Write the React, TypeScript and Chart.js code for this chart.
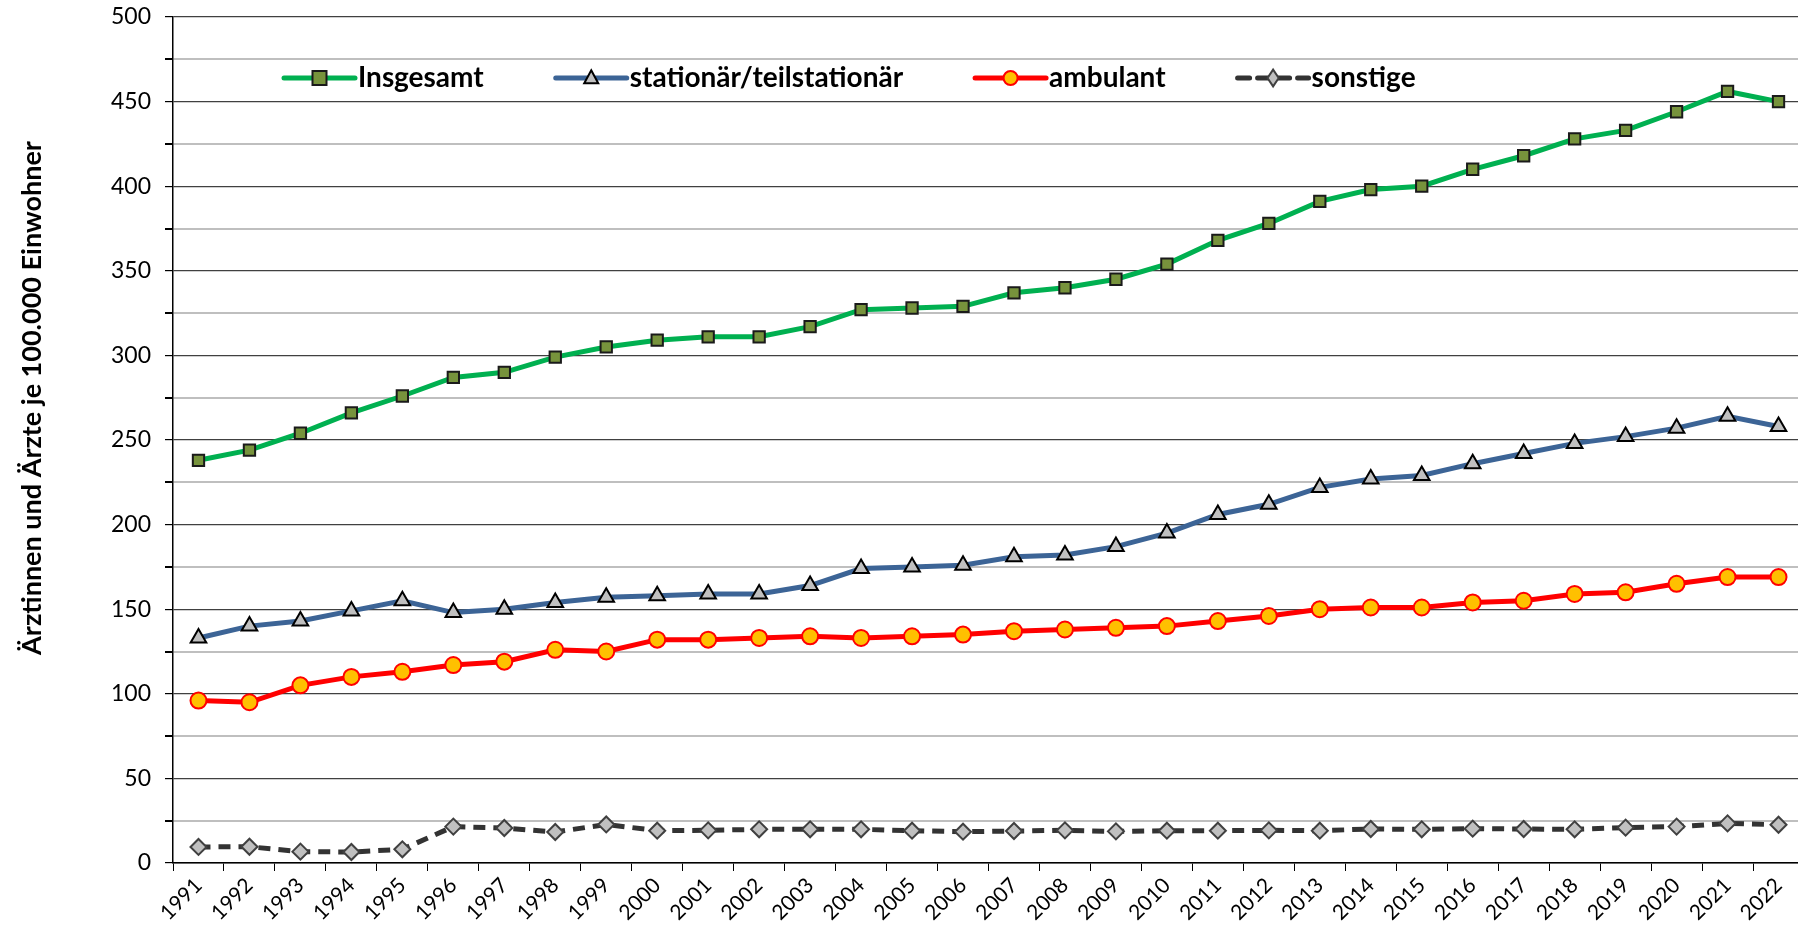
import React, { useEffect, useRef } from "react";
import { Chart, registerables } from "chart.js";

Chart.register(...registerables);

const years = ["1991","1992","1993","1994","1995","1996","1997","1998","1999","2000","2001","2002","2003","2004","2005","2006","2007","2008","2009","2010","2011","2012","2013","2014","2015","2016","2017","2018","2019","2020","2021","2022"];

const insgesamt = [238,244,254,266,276,287,290,299,305,309,311,311,317,327,328,329,337,340,345,354,368,378,391,398,400,410,418,428,433,444,456,450];
const stationaer = [133,140,143,149,155,148,150,154,157,158,159,159,164,174,175,176,181,182,187,195,206,212,222,227,229,236,242,248,252,257,264,258];
const ambulant = [96,95,105,110,113,117,119,126,125,132,132,133,134,133,134,135,137,138,139,140,143,146,150,151,151,154,155,159,160,165,169,169];
const sonstige = [9.5,9.6,6.7,6.5,8.1,21.5,20.7,18.3,22.8,19.1,19.3,19.9,19.9,19.9,19.1,18.5,18.9,19.3,18.7,19.1,19.1,19.3,19.1,20.1,19.9,20.3,20.1,19.9,20.9,21.5,23.4,22.6];

const seriesNames = ["Insgesamt", "stationär/teilstationär", "ambulant", "sonstige"];
const yTitle = "Ärztinnen und Ärzte je 100.000 Einwohner";

const FONT = "Lato, 'Open Sans', sans-serif";

function drawMarker(ctx: CanvasRenderingContext2D, style: string, x: number, y: number, r: number, fill: string, stroke: string, bw: number) {
  ctx.save();
  ctx.beginPath();
  ctx.setLineDash([]);
  if (style === "rect") {
    ctx.rect(x - r, y - r, 2 * r, 2 * r);
  } else if (style === "triangle") {
    ctx.moveTo(x, y - r * 1.1);
    ctx.lineTo(x + r, y + r * 0.75);
    ctx.lineTo(x - r, y + r * 0.75);
    ctx.closePath();
  } else if (style === "circle") {
    ctx.arc(x, y, r, 0, Math.PI * 2);
  } else {
    ctx.moveTo(x, y - r * 1.2);
    ctx.lineTo(x + r * 0.8, y);
    ctx.lineTo(x, y + r * 1.2);
    ctx.lineTo(x - r * 0.8, y);
    ctx.closePath();
  }
  ctx.fillStyle = fill;
  ctx.fill();
  ctx.lineWidth = bw;
  ctx.strokeStyle = stroke;
  ctx.stroke();
  ctx.restore();
}

const overlayPlugin = {
  id: "overlay",
  afterDraw(chart: any) {
    const ctx: CanvasRenderingContext2D = chart.ctx;
    // y-axis title
    ctx.save();
    ctx.translate(32, 398);
    ctx.rotate(-Math.PI / 2);
    ctx.font = `bold 27px ${FONT}`;
    ctx.fillStyle = "#000";
    ctx.textAlign = "center";
    ctx.textBaseline = "middle";
    ctx.fillText(yTitle, 0, 0);
    ctx.restore();

    // legend inside plot
    let x = 284;
    const y = 78;
    const lineLen = 71;
    ctx.save();
    ctx.font = `bold 28px ${FONT}`;
    chart.data.datasets.forEach((ds: any) => {
      ctx.save();
      ctx.beginPath();
      ctx.strokeStyle = ds.borderColor;
      ctx.lineWidth = ds.borderWidth;
      ctx.lineCap = "round";
      ctx.setLineDash(ds.borderDash || []);
      ctx.moveTo(x, y);
      ctx.lineTo(x + lineLen, y);
      ctx.stroke();
      ctx.restore();
      drawMarker(ctx, ds.pointStyle, x + lineLen / 2, y, ds.legendR, ds.pointBackgroundColor, ds.pointBorderColor, ds.pointBorderWidth);
      ctx.fillStyle = "#000";
      ctx.textAlign = "left";
      ctx.textBaseline = "middle";
      ctx.fillText(ds.label, x + lineLen + 3, y);
      x += lineLen + 3 + ctx.measureText(ds.label).width + 72;
    });
    ctx.restore();
  },
};

export default function App() {
  const ref = useRef<HTMLCanvasElement>(null);
  useEffect(() => {
    if (!ref.current) return;
    const chart = new Chart(ref.current, {
      type: "line",
      data: {
        labels: years,
        datasets: [
          {
            label: seriesNames[0],
            data: insgesamt,
            borderColor: "#00b050",
            borderWidth: 5,
            pointStyle: "rect",
            pointRadius: 8,
            pointBackgroundColor: "#77933c",
            pointBorderColor: "#1a1a1a",
            pointBorderWidth: 2,
            legendR: 7,
          } as any,
          {
            label: seriesNames[1],
            data: stationaer,
            borderColor: "#3c6496",
            borderWidth: 5,
            pointStyle: "triangle",
            pointRadius: 9,
            pointBackgroundColor: "#c0c0c0",
            pointBorderColor: "#000",
            pointBorderWidth: 2,
            legendR: 7,
          } as any,
          {
            label: seriesNames[2],
            data: ambulant,
            borderColor: "#ff0000",
            borderWidth: 5,
            pointStyle: "circle",
            pointRadius: 8,
            pointBackgroundColor: "#ffc000",
            pointBorderColor: "#ff0000",
            pointBorderWidth: 2,
            legendR: 7,
          } as any,
          {
            label: seriesNames[3],
            data: sonstige,
            borderColor: "#333333",
            borderWidth: 5,
            borderDash: [12, 8],
            pointStyle: "rectRot",
            pointRadius: 8,
            pointBackgroundColor: "#c0c0c0",
            pointBorderColor: "#404040",
            pointBorderWidth: 2,
            legendR: 7,
          } as any,
        ],
      },
      options: {
        animation: false,
        responsive: false,
        maintainAspectRatio: false,
        layout: { autoPadding: false, padding: { top: 17, right: 0, left: 0, bottom: 0 } },
        plugins: { legend: { display: false }, tooltip: { enabled: false } },
        elements: { line: { tension: 0 } },
        scales: {
          x: {
            offset: true,
            grid: {
              offset: true,
              drawOnChartArea: false,
              drawTicks: true,
              tickLength: 8,
              tickColor: "#000",
              color: "#000",
            },
            border: { color: "#000", width: 1.5 },
            ticks: {
              autoSkip: false,
              maxRotation: 45,
              minRotation: 45,
              color: "#000",
              padding: 2,
              font: { family: FONT, size: 21 },
            },
            afterFit: (s: any) => { s.height = 69; s.paddingLeft = 0; s.paddingRight = 0; },
          },
          y: {
            min: 0,
            max: 500,
            grid: {
              color: (c: any) => (c.tick && c.tick.value % 50 === 0 ? "#404040" : "#bfbfbf"),
              lineWidth: (c: any) => (c.tick && c.tick.value % 50 === 0 ? 1.2 : 2),
              tickLength: 8,
              tickColor: "#000",
            },
            border: { color: "#000", width: 1.5 },
            ticks: {
              stepSize: 25,
              color: "#000",
              padding: 14,
              font: { family: FONT, size: 23 },
              callback: (v: any) => (Number(v) % 50 === 0 ? String(v) : ""),
            },
            afterFit: (s: any) => { s.width = 173; s.paddingTop = 0; s.paddingBottom = 0; },
          },
        },
      },
      plugins: [overlayPlugin],
    });
    return () => chart.destroy();
  }, []);
  return (
    <div style={{ position: "absolute", left: 0, top: 0, width: 1798, height: 932, overflow: "hidden" }}>
      <canvas ref={ref} width={1804} height={932} style={{ display: "block" }} />
    </div>
  );
}
